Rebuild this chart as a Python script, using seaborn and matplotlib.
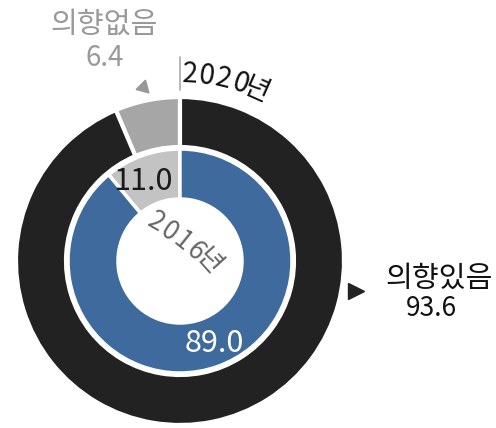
import numpy as np
import matplotlib
matplotlib.use("Agg")
import matplotlib.pyplot as plt
import seaborn as sns

# 결혼 의향 (%)
categories = ["의향없음", "의향있음"]
share_2016 = [11.0, 89.0]
share_2020 = [6.4, 93.6]
year_inner = "2016년"
year_outer = "2020년"

sns.set_theme(style="white")
plt.rcParams['font.family'] = ['Noto Sans CJK KR', 'DejaVu Sans']
narrow = ['Liberation Sans Narrow', 'Noto Sans CJK KR', 'DejaVu Sans']

colors_outer = ["#a6a6a6", "#222222"]
colors_inner = ["#c3c3c3", "#3f6a9e"]

fig = plt.figure(figsize=(4.96, 4.28), dpi=100)
ax = fig.add_axes([0, 0, 1, 1])

cx, cy = 180, 428 - 261

w_out, _ = ax.pie(share_2020, colors=colors_outer, startangle=90, counterclock=True,
                  radius=164, center=(cx, cy), frame=True,
                  wedgeprops=dict(width=50, edgecolor="white", linewidth=3))
w_in, _ = ax.pie(share_2016, colors=colors_inner, startangle=90, counterclock=True,
                 radius=112, center=(cx, cy), frame=True,
                 wedgeprops=dict(width=50, edgecolor="white", linewidth=2.5))
ax.set_xlim(0, 496)
ax.set_ylim(0, 428)
ax.set_aspect("equal")
ax.axis("off")


def mid_point(w, r):
    a = np.deg2rad((w.theta1 + w.theta2) / 2)
    return cx + r * np.cos(a), cy + r * np.sin(a)


# inner ring values
x, y = mid_point(w_in[0], 86)
ax.text(x - 8, y - 1, f"{share_2016[0]:.1f}", fontsize=22, color="#1a1a1a",
        family=narrow, ha="center", va="center")
x, y = mid_point(w_in[1], 86)
ax.text(x + 5, y - 2, f"{share_2016[1]:.1f}", fontsize=22, color="white",
        family=narrow, ha="center", va="center")

# 2016년 inside the hole
angles = np.linspace(-30, -48, len(year_inner))
px = np.linspace(156, 208, len(year_inner))
py = np.linspace(428 - 222, 428 - 262, len(year_inner))
for ch, a, x, y in zip(year_inner, angles, px, py):
    ax.text(x, y, ch, fontsize=19, color="#666666", family=narrow,
            ha="center", va="center", rotation=a)

# 2020년 along the outer arc
angles = np.linspace(87, 66, len(year_outer))
for ch, a in zip(year_outer, angles):
    t = np.deg2rad(a)
    ax.text(cx + 187 * np.cos(t), cy + 187 * np.sin(t), ch, fontsize=20,
            color="#111111", family=narrow, ha="center", va="center",
            rotation=a - 90)

# tick line at the top
ax.plot([cx, cx], [428 - 57, 428 - 90], color="#aaaaaa", lw=1.2)

# outer labels
ax.text(104, 428 - 25, categories[0], fontsize=21, color="#999999",
        fontweight="medium", ha="center", va="center")
ax.text(105, 428 - 58, f"{share_2020[0]:.1f}", fontsize=20, color="#999999",
        family=narrow, ha="center", va="center")
ax.plot(143, 428 - 87, marker=(3, 0, -15), markersize=11, color="#999999")

ax.text(439, 428 - 279, categories[1], fontsize=21, color="#111111",
        fontweight="medium", ha="center", va="center")
ax.text(431, 428 - 308, f"{share_2020[1]:.1f}", fontsize=19, color="#111111",
        family=narrow, ha="center", va="center")
ax.plot(356, 428 - 291, marker=">", markersize=11, color="#222222")

fig.savefig("out.png", dpi=100)
